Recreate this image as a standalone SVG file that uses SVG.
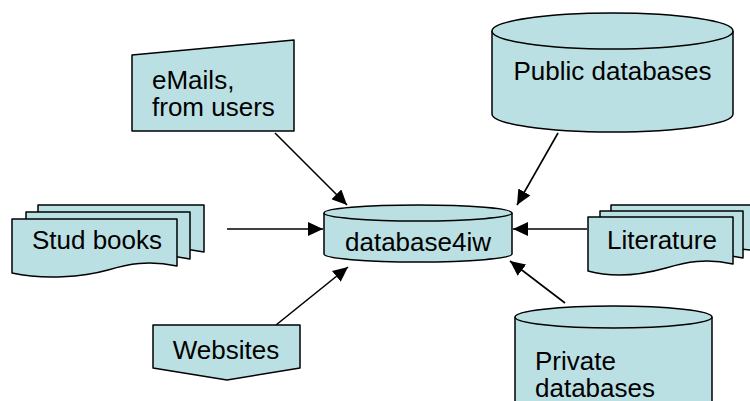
<svg xmlns="http://www.w3.org/2000/svg" width="750" height="401" viewBox="0 0 750 401">
<style>
.s{fill:#BBE0E3;stroke:#000;stroke-width:1.5;stroke-linejoin:round}
.t{font-family:"Liberation Sans",Arial,sans-serif;font-size:26px;fill:#000}
.c{stroke:#000;stroke-width:1.6;fill:none}
</style>
<defs>
<marker id="ah" markerUnits="userSpaceOnUse" markerWidth="16" markerHeight="14" refX="15" refY="7" orient="auto">
<path d="M0,0 L15,7 L0,14 Z" fill="#000"/>
</marker>
</defs>
<rect width="750" height="401" fill="#fff"/>
<g id="connectors">
<line class="c" x1="275" y1="133" x2="347" y2="205" marker-end="url(#ah)"/>
<line class="c" x1="558" y1="133" x2="517" y2="205" marker-end="url(#ah)"/>
<line class="c" x1="227" y1="229" x2="323" y2="229" marker-end="url(#ah)"/>
<line class="c" x1="587" y1="229" x2="513" y2="229" marker-end="url(#ah)"/>
<line class="c" x1="276" y1="325" x2="348" y2="267" marker-end="url(#ah)"/>
<line class="c" x1="565" y1="303" x2="510" y2="261" marker-end="url(#ah)"/>
</g>
<g id="emails">
<path class="s" d="M132,55 L294,40 L294,131 L132,131 Z"/>
<text class="t" x="152" y="89">eMails,</text>
<text class="t" x="152" y="116">from users</text>
</g>
<g id="public">
<path class="s" d="M492,31 V114 A120.5,18 0 0 0 733,114 V31"/>
<ellipse class="s" cx="612.5" cy="31" rx="120.5" ry="18"/>
<text class="t" x="612.5" y="80" text-anchor="middle">Public databases</text>
</g>
<g id="studbooks">
<path class="s" d="M38,205 H204 V252 C175,246 155,250 135,256 C110,263 70,266 38,259 Z"/>
<path class="s" d="M26,212 H190 V259 C162,253 142,257 122,263 C97,270 58,273 26,266 Z"/>
<path class="s" d="M12,219 H177 V266 C148,260 128,264 108,270 C83,277 44,280 12,273 Z"/>
<text class="t" x="97" y="249" text-anchor="middle">Stud books</text>
</g>
<g id="database4iw">
<path class="s" d="M324,213 V254 A94,8 0 0 0 512,254 V213"/>
<ellipse class="s" cx="418" cy="213" rx="94" ry="8"/>
<text class="t" x="418" y="251" text-anchor="middle">database4iw</text>
</g>
<g id="literature">
<path class="s" d="M611,205 H762 V252 C735,246 715,250 695,256 C670,263 640,266 611,259 Z"/>
<path class="s" d="M600,211 H743 V258 C716,252 696,256 676,262 C651,269 625,272 600,265 Z"/>
<path class="s" d="M588,217 H733 V264 C706,258 686,262 666,268 C641,275 613,278 588,271 Z"/>
<text class="t" x="662" y="249" text-anchor="middle">Literature</text>
</g>
<g id="websites">
<path class="s" d="M153,325 H300 V368 L227,380 L153,368 Z"/>
<text class="t" x="226" y="359" text-anchor="middle">Websites</text>
</g>
<g id="private">
<path class="s" d="M515,317 V420 H712 V317"/>
<ellipse class="s" cx="613.5" cy="317" rx="98.5" ry="11"/>
<text class="t" x="535" y="370">Private</text>
<text class="t" x="535" y="397">databases</text>
</g>
</svg>
